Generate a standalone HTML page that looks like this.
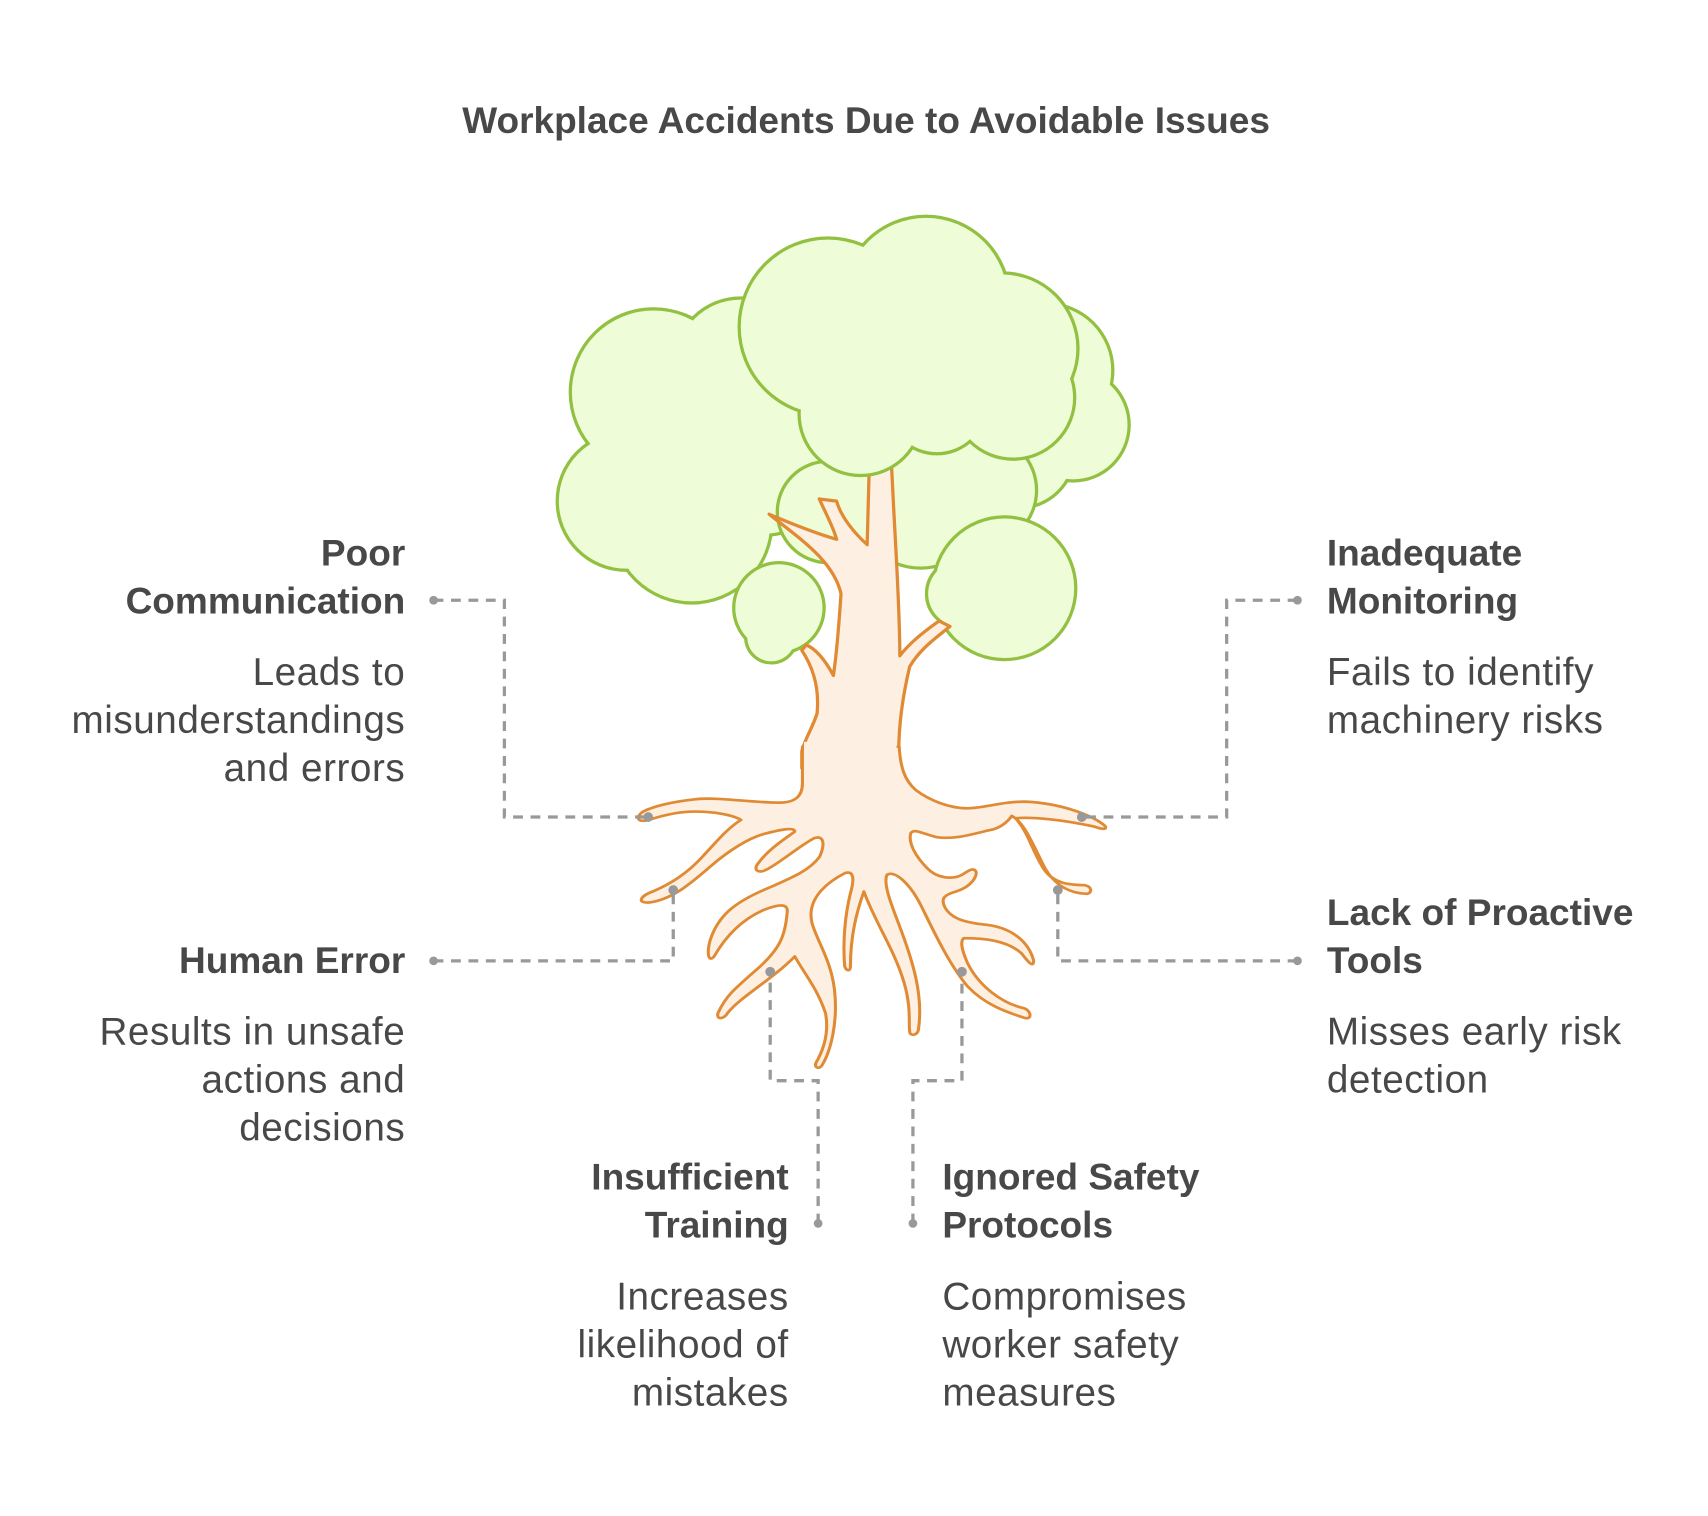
<!DOCTYPE html>
<html><head><meta charset="utf-8"><style>
html,body{margin:0;padding:0;background:#fff;}
svg{display:block;}
text{font-family:"Liberation Sans",Arial,sans-serif;fill:#484848;}
.b{font-weight:bold;font-size:34px;}
.r{font-size:35.5px;letter-spacing:0.5px;}
</style></head><body>
<svg width="1708" height="1516" viewBox="0 0 1708 1516" xmlns="http://www.w3.org/2000/svg">
<g transform="scale(1.0894)">
 <g stroke="#92c040" stroke-width="6" fill="#eefcd8">
  <g><circle cx="600" cy="360" r="75"/><circle cx="680" cy="335" r="60"/><circle cx="575" cy="460" r="62"/><circle cx="635" cy="480" r="72"/><circle cx="700" cy="420" r="70"/></g>
  <g stroke="none"><circle cx="600" cy="360" r="75"/><circle cx="680" cy="335" r="60"/><circle cx="575" cy="460" r="62"/><circle cx="635" cy="480" r="72"/><circle cx="700" cy="420" r="70"/></g>
  <g><circle cx="960" cy="340" r="60"/><circle cx="985" cy="390" r="50"/><circle cx="935" cy="415" r="50"/><circle cx="890" cy="395" r="40"/></g>
  <g stroke="none"><circle cx="960" cy="340" r="60"/><circle cx="985" cy="390" r="50"/><circle cx="935" cy="415" r="50"/><circle cx="890" cy="395" r="40"/></g>
  <g><circle cx="845" cy="460" r="60"/><circle cx="900" cy="450" r="50"/><circle cx="760" cy="470" r="45"/></g>
  <g stroke="none"><circle cx="845" cy="460" r="60"/><circle cx="900" cy="450" r="50"/><circle cx="760" cy="470" r="45"/></g>
  <g><circle cx="922" cy="540" r="64"/><circle cx="882" cy="545" r="30"/></g>
  <g stroke="none"><circle cx="922" cy="540" r="64"/><circle cx="882" cy="545" r="30"/></g>
  <g><circle cx="715" cy="558" r="40"/><circle cx="708" cy="585" r="22"/></g>
  <g stroke="none"><circle cx="715" cy="558" r="40"/><circle cx="708" cy="585" r="22"/></g>
 </g>
 <path d="M 798,425 L 796,500 C 785,490 772,475 768,460 L 752,458 C 760,475 765,485 768,495 C 750,490 725,480 706,472 C 735,495 765,515 772,545 C 770,575 768,600 765,620 C 757,605 748,595 740,592 L 736,597 C 748,615 752,635 750,655 C 745,670 738,680 736,690 L 736,705 L 825,705 L 825,690 C 825,675 826,650 835,612 C 845,595 860,585 872,575 L 862,570 C 848,580 835,590 826,602 C 826,560 822,500 820,460 L 818,420 Z" fill="#fdefe2" stroke="#e08a34" stroke-width="3" stroke-linejoin="round"/>
 <g stroke="#92c040" stroke-width="6" fill="#eefcd8">
  <g><circle cx="760" cy="300" r="80"/><circle cx="850" cy="275" r="75"/><circle cx="920" cy="320" r="68"/><circle cx="790" cy="380" r="55"/><circle cx="860" cy="370" r="45"/><circle cx="930" cy="365" r="55"/></g>
  <g stroke="none"><circle cx="760" cy="300" r="80"/><circle cx="850" cy="275" r="75"/><circle cx="920" cy="320" r="68"/><circle cx="790" cy="380" r="55"/><circle cx="860" cy="370" r="45"/><circle cx="930" cy="365" r="55"/></g>
 </g>
</g>
<g transform="translate(549,750) scale(0.384,0.333)">
<path fill="#fdefe2" stroke="#e08a34" stroke-width="8" stroke-linejoin="round" d="M 660,-10 L 660,100 C 660,140 640,158 600,158 C 520,158 440,140 380,148 C 320,155 270,170 245,185 C 225,200 228,220 260,210 C 300,195 340,185 380,185 C 430,185 480,195 500,210 C 470,230 440,270 400,320 C 360,370 320,400 270,425 C 235,440 230,460 260,458 C 320,450 370,400 420,350 C 470,300 520,265 560,252 C 600,240 640,230 640,245 C 610,270 570,300 545,340 C 530,360 545,372 565,360 C 600,340 650,290 690,265 C 715,255 720,280 705,320 C 680,360 640,380 560,420 C 480,460 440,500 420,570 C 410,610 415,640 430,620 C 460,560 500,510 560,480 C 600,462 625,460 620,490 C 615,560 600,600 540,660 C 480,720 460,740 440,790 C 435,810 455,810 465,790 C 500,740 580,690 640,620 C 670,680 700,720 720,790 C 730,850 715,900 695,940 C 690,955 705,960 712,945 C 735,900 750,820 745,740 C 740,640 700,580 685,520 C 670,450 720,400 770,370 C 795,360 795,390 785,430 C 770,500 765,580 770,650 C 775,665 785,665 785,650 C 785,560 800,490 820,425 C 850,520 900,600 925,700 C 945,780 935,830 940,850 C 945,860 960,855 962,840 C 975,740 950,640 910,520 C 890,460 870,400 880,375 C 900,360 940,400 970,470 C 1000,540 1040,640 1090,710 C 1140,770 1200,790 1240,805 C 1260,810 1255,780 1235,775 C 1180,760 1120,710 1090,640 C 1075,600 1070,575 1080,565 C 1130,565 1190,570 1230,610 C 1250,640 1262,655 1262,632 C 1250,580 1210,535 1140,525 C 1080,518 1045,505 1030,470 C 1020,445 1030,435 1060,425 C 1100,410 1115,380 1112,365 C 1105,350 1090,365 1075,375 C 1050,390 1010,385 985,355 C 955,320 935,280 942,250 C 950,235 970,250 1010,262 C 1060,270 1110,250 1150,240 C 1175,235 1195,215 1205,198 C 1235,215 1255,270 1285,340 C 1310,400 1350,430 1400,432 C 1415,430 1415,410 1395,406 C 1350,405 1315,400 1290,360 C 1260,310 1250,250 1215,205 C 1260,200 1340,210 1420,230 C 1440,238 1455,240 1448,228 C 1420,200 1340,160 1240,155 C 1180,155 1130,175 1090,175 C 1040,175 990,150 955,120 C 925,90 915,50 912,-10 Z"/>
</g>
<g transform="scale(1.0894)">
 <polygon points="738,681 823,681 823,708 738,708" fill="#fdefe2"/>
 <g stroke="#999" stroke-width="3" fill="none" stroke-dasharray="9 7">
  <path d="M 398,551 H 463 V 750 H 595"/>
  <path d="M 398,882 H 618 V 817"/>
  <path d="M 751,1123 V 992 H 707 V 892"/>
  <path d="M 838,1123 V 992 H 883 V 892"/>
  <path d="M 1191,551 H 1126 V 750 H 993"/>
  <path d="M 1191,882 H 971 V 817"/>
 </g>
 <g fill="#999">
  <circle cx="398" cy="551" r="4"/><circle cx="595" cy="750" r="4.5"/>
  <circle cx="398" cy="882" r="4"/><circle cx="618" cy="817" r="4.5"/>
  <circle cx="751" cy="1123" r="4"/><circle cx="707" cy="892" r="4.5"/>
  <circle cx="838" cy="1123" r="4"/><circle cx="883" cy="892" r="4.5"/>
  <circle cx="1191" cy="551" r="4"/><circle cx="993" cy="750" r="4.5"/>
  <circle cx="1191" cy="882" r="4"/><circle cx="971" cy="817" r="4.5"/>
 </g>
 <text class="b" x="795" y="122" text-anchor="middle">Workplace Accidents Due to Avoidable Issues</text>
 <g text-anchor="end">
  <text class="b" x="372" y="519">Poor</text>
  <text class="b" x="372" y="563">Communication</text>
  <text class="r" x="372" y="629">Leads to</text>
  <text class="r" x="372" y="673">misunderstandings</text>
  <text class="r" x="372" y="717">and errors</text>
  <text class="b" x="372" y="893">Human Error</text>
  <text class="r" x="372" y="959">Results in unsafe</text>
  <text class="r" x="372" y="1003">actions and</text>
  <text class="r" x="372" y="1047">decisions</text>
  <text class="b" x="724" y="1092">Insufficient</text>
  <text class="b" x="724" y="1136">Training</text>
  <text class="r" x="724" y="1202">Increases</text>
  <text class="r" x="724" y="1246">likelihood of</text>
  <text class="r" x="724" y="1290">mistakes</text>
 </g>
 <g>
  <text class="b" x="865" y="1092">Ignored Safety</text>
  <text class="b" x="865" y="1136">Protocols</text>
  <text class="r" x="865" y="1202">Compromises</text>
  <text class="r" x="865" y="1246">worker safety</text>
  <text class="r" x="865" y="1290">measures</text>
  <text class="b" x="1218" y="519">Inadequate</text>
  <text class="b" x="1218" y="563">Monitoring</text>
  <text class="r" x="1218" y="629">Fails to identify</text>
  <text class="r" x="1218" y="673">machinery risks</text>
  <text class="b" x="1218" y="849">Lack of Proactive</text>
  <text class="b" x="1218" y="893">Tools</text>
  <text class="r" x="1218" y="959">Misses early risk</text>
  <text class="r" x="1218" y="1003">detection</text>
 </g>
</g>
</svg>
</body></html>
